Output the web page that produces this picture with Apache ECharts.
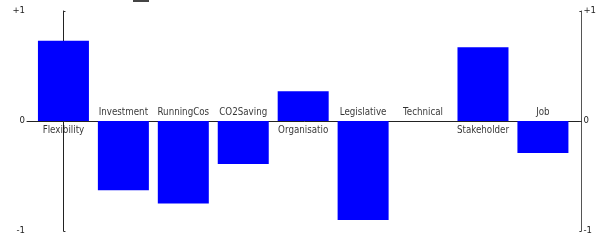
<!DOCTYPE html>
<html>
<head>
<meta charset="utf-8">
<script src="https://cdn.jsdelivr.net/npm/echarts@6/dist/echarts.min.js"></script>
<style>
  html, body { margin: 0; padding: 0; background: #fff; }
  #chart { width: 599px; height: 241px; }
</style>
</head>
<body>
<div id="chart"></div>
<script>
const categories = ['Flexibility', 'Investment', 'RunningCost', 'CO2Saving', 'Organisation',
  'Legislative', 'Technical', 'Stakeholder', 'Job'];
const scores = [0.73, -0.63, -0.75, -0.39, 0.27, -0.9, 0, 0.67, -0.29];
const yTicks = { '1': '+1', '0': '0', '-1': '-1' };

const FONT = '"DejaVu Sans Condensed", "DejaVu Sans", sans-serif';

const chart = echarts.init(document.getElementById('chart'), null, { renderer: 'canvas' });

const barData = scores.map((v, i) => [i, v]);
const labelData = categories.map((name, i) => ({
  value: [i, 0],
  name: name,
  label: { position: scores[i] > 0 ? 'bottom' : 'top' }
}));

const yAxisCommon = {
  type: 'value',
  min: -1,
  max: 1,
  interval: 1,
  splitLine: { show: false },
  axisTick: { show: true, inside: true, length: 2, lineStyle: { color: '#333' } },
  axisLabel: {
    margin: 2,
    fontFamily: FONT,
    fontSize: 9.5,
    color: '#222',
    formatter: v => yTicks[String(v)]
  }
};

chart.setOption({
  animation: false,
  grid: { left: 27, right: 17, top: 11, bottom: 10 },
  xAxis: {
    type: 'value',
    min: -0.608,
    max: 8.642,
    axisLine: { show: true, onZero: true, lineStyle: { color: '#222', width: 1 } },
    axisTick: { show: false },
    axisLabel: { show: false },
    splitLine: { show: false }
  },
  yAxis: [
    Object.assign({}, yAxisCommon, {
      position: 'left',
      axisLine: { show: true, lineStyle: { color: '#222' } }
    }),
    Object.assign({}, yAxisCommon, {
      position: 'right',
      axisLine: { show: true, lineStyle: { color: '#555' } }
    })
  ],
  series: [
    {
      type: 'bar',
      data: barData,
      barWidth: 51,
      itemStyle: { color: '#0000ff' }
    },
    {
      type: 'scatter',
      data: labelData,
      symbolSize: 0,
      silent: true,
      label: {
        show: true,
        formatter: p => p.name,
        distance: 4,
        fontFamily: FONT,
        fontSize: 9.7,
        color: '#000',
        width: 55,
        overflow: 'truncate',
        ellipsis: ''
      }
    }
  ],
  graphic: [
    { type: 'rect', shape: { x: 133, y: 0, width: 16, height: 2 }, style: { fill: '#444' } }
  ]
});
</script>
</body>
</html>
